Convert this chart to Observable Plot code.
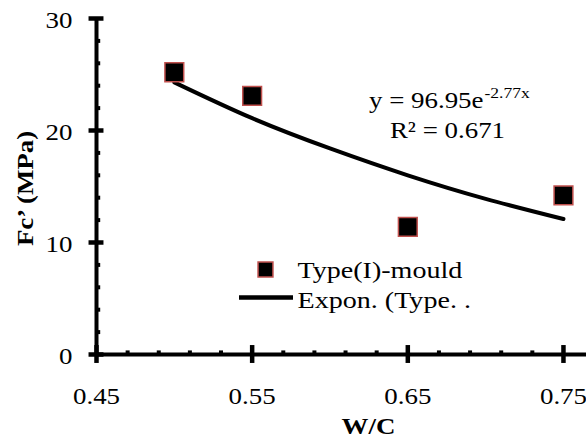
<!DOCTYPE html>
<html><head><meta charset="utf-8">
<script src="https://cdn.jsdelivr.net/npm/d3@7"></script>
<script src="https://cdn.jsdelivr.net/npm/@observablehq/plot@0.6"></script>
<style>
body{margin:0;background:#fff}
#chart svg text{font-family:"Liberation Serif","Times New Roman",Times,serif;}
</style>
</head><body><div id="chart"></div>
<script>
// ---- data ----
const wc = [0.50, 0.55, 0.65, 0.75];
const fc = [25.2, 23.1, 11.4, 14.2];
const trendWC = [0.50, 0.55, 0.60, 0.65, 0.70, 0.75];
const trendFc = [24.3, 21.1, 18.4, 16.0, 13.9, 12.1];
const xTicks = [0.45, 0.55, 0.65, 0.75];
const xMinor = [0.47, 0.49, 0.51, 0.53, 0.57, 0.59, 0.61, 0.63, 0.67, 0.69, 0.71, 0.73];
const yTicks = [0, 10, 20, 30];
const yMinor = [2, 4, 6, 8, 12, 14, 16, 18, 22, 24, 26, 28];
const seriesName = "Type(I)-mould";
const trendName = "Expon. (Type. .";
const equation = "y = 96.95e";
const exponent = "-2.77x";
const r2Text = "R² = 0.671";
const xLabel = "W/C";
const yLabel = "Fc’ (MPa)";

const points = wc.map((x, i) => ({x, y: fc[i]}));
const trend = trendWC.map((x, i) => ({x, y: trendFc[i]}));

const lineSymbol = {draw(ctx) { ctx.moveTo(-27, 0); ctx.lineTo(27, 0); }};
const F = "Liberation Serif, Times New Roman, serif";

const chart = Plot.plot({
  width: 586, height: 439,
  marginLeft: 96, marginRight: 0, marginTop: 18, marginBottom: 85,
  style: {fontFamily: F, fontSize: "23px", color: "black", background: "white", overflow: "visible"},
  x: {domain: [0.45, 0.7648]},
  y: {domain: [0, 30]},
  marks: [
    Plot.ruleY([0], {strokeWidth: 4}),
    Plot.ruleX([0.45], {strokeWidth: 4}),
    Plot.ruleX(xTicks, {x: d => d, y1: -0.8, y2: 0.8, strokeWidth: 4.5}),
    Plot.ruleX(xMinor, {x: d => d, y1: 0, y2: 0.32, strokeWidth: 4}),
    Plot.ruleY(yTicks, {y: d => d, x1: 0.4452, x2: 0.4548, strokeWidth: 4.5}),
    Plot.ruleY(yMinor, {y: d => d, x1: 0.45, x2: 0.4527, strokeWidth: 4}),
    Plot.axisX(xTicks, {tickSize: 0, tickPadding: 33, tickFormat: d3.format(".2f"), label: null, fontFamily: F}),
    Plot.axisY(yTicks, {tickSize: 0, tickPadding: 24, dy: 2, label: null, fontFamily: F}),
    Plot.line(trend, {x: "x", y: "y", curve: "natural", stroke: "black", strokeWidth: 4}),
    Plot.dot(points, {x: "x", y: "y", symbol: "square", r: 10.6, fill: "black", stroke: "#c0504d", strokeWidth: 1.5}),
    // trendline annotation
    Plot.text([equation], {frameAnchor: "top-left", dx: 387, dy: 89, textAnchor: "end", lineAnchor: "bottom", fontFamily: F}),
    Plot.text([exponent], {frameAnchor: "top-left", dx: 388, dy: 79, textAnchor: "start", lineAnchor: "bottom", fontSize: 15, fontFamily: F}),
    Plot.text([r2Text], {frameAnchor: "top-left", dx: 351, dy: 119, textAnchor: "middle", lineAnchor: "bottom", fontFamily: F}),
    // legend
    Plot.dot([seriesName], {frameAnchor: "top-left", dx: 169, dy: 251, symbol: "square", r: 8.4, fill: "black", stroke: "#c0504d", strokeWidth: 1.5}),
    Plot.dot([trendName], {frameAnchor: "top-left", dx: 169.5, dy: 279, symbol: lineSymbol, stroke: "black", strokeWidth: 4.5}),
    Plot.text([seriesName], {frameAnchor: "top-left", dx: 201, dy: 259, textAnchor: "start", lineAnchor: "bottom", fontSize: 24, fontFamily: F}),
    Plot.text([trendName], {frameAnchor: "top-left", dx: 201, dy: 289, textAnchor: "start", lineAnchor: "bottom", fontSize: 24, fontFamily: F}),
    // axis titles
    Plot.text([yLabel], {frameAnchor: "left", dx: -71, dy: 2, rotate: -90, textAnchor: "middle", fontWeight: "bold", fontFamily: F}),
    Plot.text([xLabel], {frameAnchor: "bottom", dx: 27, dy: 79, textAnchor: "middle", lineAnchor: "bottom", fontWeight: "bold", fontFamily: F})
  ]
});

// horizontally widen glyphs like the reference (stretched Times-like text)
d3.select(chart).selectAll("text").each(function() {
  const x = +this.getAttribute("x") || 0, y = +this.getAttribute("y") || 0;
  const t = this.getAttribute("transform") || "";
  this.setAttribute("transform", `${t} translate(${x},${y}) scale(1.17,1) translate(${-x},${-y})`);
});
document.getElementById("chart").append(chart);
</script>
</body></html>
